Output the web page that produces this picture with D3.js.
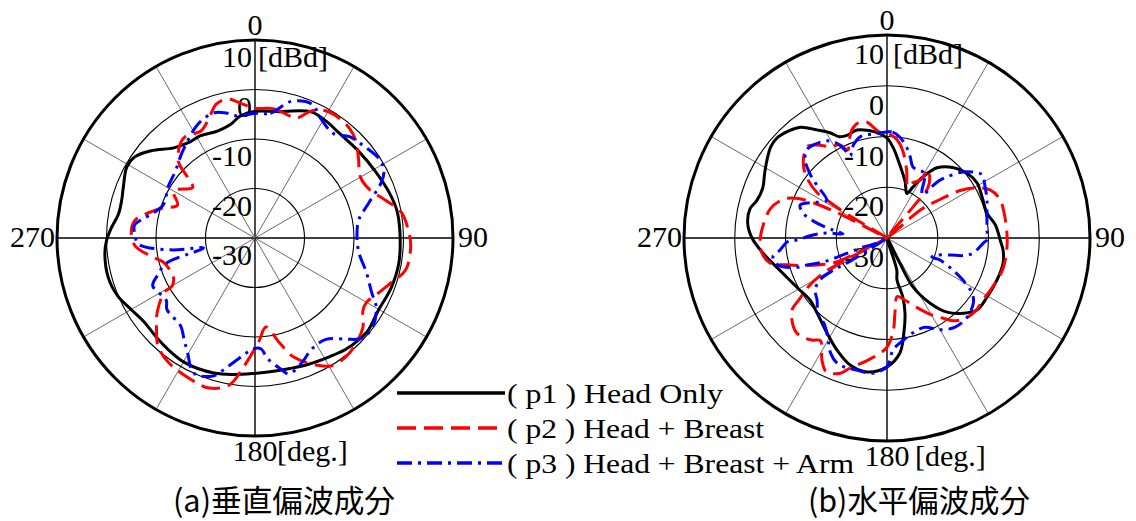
<!DOCTYPE html>
<html>
<head>
<meta charset="utf-8">
<script src="https://cdn.jsdelivr.net/npm/d3@7"></script>
<style>
  body { margin: 0; background: #fff; }
  svg { display: block; }
</style>
</head>
<body>
<svg id="chart" width="1136" height="521"></svg>
<script>
// Radial grid rings (dBd) and their labels
const ringValues = [10, 0, -10, -20, -30];
const ringLabels = ["10", "0", "-10", "-20", "-30"];
// Angular grid (degrees, clockwise from top)
const spokeAngles = [0, 30, 60, 90, 120, 150, 180, 210, 240, 270, 300, 330];
const angleLabels = ["0", "90", "180", "270"];
const seriesNames = ["( p1 ) Head Only", "( p2 ) Head + Breast", "( p3 ) Head + Breast + Arm"];
const panelTitles = ["(a)垂直偏波成分", "(b)水平偏波成分"];

// Vertical polarization patterns: [angle deg, level dBd]
const vertP1 = [[0,-4.4],[11,-4.0],[14,-3.6],[24,-2.1],[32,-2.4],[38,-2.8],[50,-2.7],[61,-2.2],[71,-1.4],[79,-0.8],[88,-0.7],[100,-0.5],[110,-0.7],[121,-1.1],[129,-0.5],[134,-0.6],[141,-1.0],[148,-1.7],[157,-2.3],[165,-2.7],[172,-2.8],[181,-2.6],[190,-2.0],[197,-1.5],[204,-1.2],[210,-1.1],[217,-1.4],[224,-1.7],[233,-1.9],[240,-1.1],[247,0.1],[255,0.7],[264,0.5],[269,0.0],[274,-0.9],[280,-2.0],[286,-2.0],[291,-1.5],[299,-0.4],[304,-0.7],[310,-2.6],[318,-5.5],[325,-6.5],[332,-6.6],[341,-7.1],[348,-6.5],[353,-5.2]];
const vertP2 = [[0,-3.8],[8,-3.6],[14,-4.2],[19,-4.4],[24,-1.9],[29,-0.6],[35,-0.4],[41,-0.8],[46,-1.7],[52,-3.5],[60,-5.4],[67,-4.9],[74,-2.5],[80,0.0],[87,1.0],[93,1.5],[102,1.1],[108,-1.0],[114,-2.7],[120,-4.0],[124,-3.7],[130,-1.6],[141,0.1],[149,0.1],[154,-1.4],[162,-4.7],[167,-8.4],[173,-11.9],[178,-9.0],[185,-3.9],[190,0.2],[197,1.7],[204,1.4],[215,0.6],[222,-0.7],[227,-2.8],[233,-5.3],[239,-8.6],[240,-10.7],[245,-11.8],[250,-11.6],[255,-10.9],[260,-8.7],[266,-5.8],[272,-5.0],[278,-5.4],[282,-7.2],[288,-10.4],[293,-13.0],[300,-11.0],[309,-13.8],[312,-11.7],[315,-8.1],[322,-5.6],[326,-5.1],[333,-5.8],[338,-4.5],[344,-1.8],[349,-1.4],[355,-2.9]];
const vertP3 = [[0,-4.8],[7,-4.6],[15,-1.4],[23,-0.6],[29,-2.5],[37,-3.6],[43,-2.0],[50,-1.2],[57,-0.3],[62,-0.5],[66,-2.0],[73,-6.0],[80,-8.7],[89,-9.4],[98,-8.8],[107,-6.5],[115,-4.0],[120,-1.7],[128,-0.1],[134,-0.7],[138,-2.5],[145,-5.0],[153,-4.8],[159,-3.2],[166,-1.7],[169,-3.1],[174,-5.5],[177,-7.6],[181,-7.6],[186,-6.1],[192,-3.4],[196,-1.2],[198,-0.6],[203,0.1],[206,-0.6],[210,-2.9],[215,-5.0],[220,-6.7],[231,-7.1],[235,-8.1],[245,-7.2],[249,-8.9],[254,-11.3],[259,-19.4],[262,-12.8],[267,-6.4],[271,-5.8],[276,-5.5],[279,-6.7],[284,-8.9],[290,-10.3],[301,-9.6],[310,-9.0],[318,-7.6],[324,-6.4],[330,-5.0],[335,-4.0],[342,-3.4],[347,-4.1],[352,-5.1]];

// Horizontal polarization patterns: [angle deg, level dBd]
const horzP1 = [[0,-10.3],[4,-12.2],[10,-15.4],[18,-18.4],[24,-20.4],[27,-18.7],[30.5,-16.0],[35.5,-13.0],[43,-11.0],[51,-9.7],[58.6,-9.2],[66.7,-9.6],[76,-9.7],[83,-8.5],[91,-7.7],[96,-7.0],[102,-6.6],[111,-6.8],[120.5,-7.1],[128.7,-7.3],[134.6,-8.9],[141,-11.2],[146.5,-14.6],[152,-19.1],[153,-24.4],[158,-30],[163,-23.4],[166.6,-21.5],[165,-18.0],[166.5,-14.8],[169.5,-11.5],[173.6,-7.2],[180,-4.6],[188.5,-3.3],[196,-3.9],[204,-5.8],[212,-7.8],[223,-9.8],[231,-10.5],[241,-9.8],[253,-8.0],[263,-5.4],[270,-3.4],[276,-2.4],[282,-2.4],[286,-3.3],[292,-3.6],[298,-2.7],[303,-1.8],[308,-0.9],[312,-0.7],[317,-1.3],[322,-2.3],[327,-4.6],[331.5,-6.4],[335,-8.0],[339,-8.3],[344.5,-7.9],[351,-8.6],[355,-9.2]];
const horzP2 = [[0,-9.3],[6,-10.6],[10,-12.4],[16,-16.0],[22,-19.1],[25,-18.0],[30,-16.8],[31,-14.3],[34,-15.0],[39,-17.1],[40,-22.0],[43,-30],[50,-21.5],[54,-17.1],[57,-12.8],[61,-9.6],[65,-7.6],[71,-6.5],[80,-6.4],[92,-6.3],[101,-6.3],[106,-6.4],[111,-6.8],[117,-7.2],[123,-7.5],[129,-7.4],[135,-7.8],[141,-9.0],[145,-10.7],[150,-12.5],[157,-15.2],[165,-17.5],[170,-18.3],[174,-15.1],[176,-11.8],[180,-8.5],[185,-6.8],[189,-5.6],[196,-3.3],[199,-1.8],[203,-1.1],[205,-1.2],[208,-2.7],[213,-5.9],[216,-5.1],[220,-4.4],[224,-4.2],[229,-5.2],[233,-6.6],[235,-8.9],[238,-11.5],[241,-15.5],[242,-21],[242.5,-30],[244,-21],[245,-18.3],[251,-13.4],[255,-9.6],[258,-6.4],[263,-5.2],[269,-5.0],[275,-5.4],[284,-6.3],[290,-8.0],[293,-9.8],[295,-12.5],[297,-19],[299,-30],[301,-21],[302,-16.8],[303,-13.6],[307,-10.2],[312,-7.8],[319,-6.1],[324,-7.4],[328,-8.8],[333,-9.4],[336,-11],[339,-9.3],[342,-7.6],[346,-6.6],[350,-6.8],[356,-9.1]];
const horzP3 = [[0,-9.1],[3,-9.1],[7,-9.9],[12,-11.6],[16,-13.4],[20,-15.1],[24,-15.3],[29,-15.2],[32,-16],[37,-18.6],[40,-19.0],[41,-16.8],[42.5,-14.5],[44.5,-13.1],[48,-10.7],[50.5,-9.5],[54,-8.1],[56.5,-7.5],[62.5,-8.2],[69,-8.9],[76,-9.7],[84,-10.2],[91,-10.3],[93,-11.0],[100,-12.8],[103,-14.6],[105,-17.1],[109,-19.6],[113,-20.4],[112.5,-18.7],[116,-15.5],[119,-12.9],[123,-10.0],[127,-8.7],[134.6,-7.8],[142.6,-7.9],[150,-9.1],[157,-10.9],[165,-10.6],[171,-9.6],[177,-7.9],[178.6,-5.9],[180,-4.6],[186,-3.2],[193,-3.3],[198,-3.2],[202,-3.5],[206,-4.7],[210,-6.8],[215.5,-8.9],[222.6,-9.9],[228.5,-11.6],[234,-12.5],[238,-14.4],[239,-17.6],[238,-20.7],[237,-30],[243,-27.8],[249,-24.9],[249,-20.7],[249.4,-16.5],[251.4,-13.4],[252,-11.3],[256,-7.9],[260.5,-7.2],[263.6,-8.8],[267.7,-10.3],[268.7,-12.2],[272.3,-15.4],[274.8,-18.1],[275.2,-21.3],[278.4,-19.2],[282,-15.9],[286.6,-12.7],[290.8,-11.7],[293.6,-12.8],[297,-14.5],[302,-16.0],[307,-12.7],[310,-10.1],[313.6,-7.7],[317.7,-6.5],[321.5,-6.6],[328.3,-7.5],[332,-8.8],[334.5,-10.8],[336,-12.3],[338.7,-11],[345,-9.4],[352.3,-9.3]];

const seriesStyles = [
  { color: "#000000", dash: null },
  { color: "#ff0000", dash: "19,8" },
  { color: "#0000ff", dash: "15,6,3,6" }
];

const svg = d3.select("#chart");
const serif = "'Liberation Serif', 'Times New Roman', serif";
const tickSize = 30;
const toRad = d => d * Math.PI / 180;

const panels = [
  { cx: 255, cy: 238, R: 198, series: [vertP1, vertP2, vertP3], ringDy: 27, unitDx: 3, degDx: 22 },
  { cx: 887, cy: 238, R: 203, series: [horzP1, horzP2, horzP3], ringDy: 29, unitDx: 6, degDx: 28 }
];

panels.forEach(p => {
  const g = svg.append("g").attr("transform", `translate(${p.cx},${p.cy})`);
  const r = d3.scaleLinear().domain([-30, 10]).range([0, p.R]).clamp(true);

  // spokes
  g.selectAll("line.spoke").data(spokeAngles).join("line")
    .attr("class", "spoke")
    .attr("x1", 0).attr("y1", 0)
    .attr("x2", a => p.R * Math.sin(toRad(a)))
    .attr("y2", a => -p.R * Math.cos(toRad(a)))
    .attr("stroke", a => a % 90 === 0 ? "#000" : "#6a6a6a")
    .attr("stroke-width", a => a % 90 === 0 ? 1.4 : 1);

  // rings
  g.selectAll("circle.ring").data(ringValues.filter(v => v > -30)).join("circle")
    .attr("class", "ring")
    .attr("r", v => r(v))
    .attr("fill", "none")
    .attr("stroke", "#000")
    .attr("stroke-width", v => v === 10 ? 3 : 1.1);

  const label = (x, y, anchor, txt) => g.append("text")
    .attr("x", x).attr("y", y)
    .attr("text-anchor", anchor)
    .attr("font-family", serif).attr("font-size", tickSize)
    .text(txt);

  // ring labels
  ringValues.forEach((v, i) => {
    const y = -r(v) + p.ringDy;
    label(-3, y, "end", ringLabels[i]);
    if (v === 10) label(p.unitDx, y, "start", "[dBd]");
  });

  // angle labels
  label(0, -p.R - 5, "middle", angleLabels[0]);
  label(p.R + 5, 9, "start", angleLabels[1]);
  label(-p.R - 2, 9, "end", angleLabels[3]);
  label(0, p.R + 25, "middle", angleLabels[2]);
  label(p.degDx, p.R + 25, "start", "[deg.]");

  // pattern curves
  const line = d3.lineRadial()
    .angle(d => toRad(d[0]))
    .radius(d => r(d[1]))
    .curve(d3.curveCatmullRomClosed.alpha(0.5));

  p.series.forEach((data, si) => {
    g.append("path")
      .attr("d", line(data))
      .attr("fill", "none")
      .attr("stroke", seriesStyles[si].color)
      .attr("stroke-width", 3)
      .attr("stroke-linejoin", "round")
      .attr("stroke-dasharray", seriesStyles[si].dash);
  });
});

// legend
const legendWidths = [216, 257, 347];
seriesNames.forEach((name, i) => {
  const y = 393 + i * 35;
  svg.append("line")
    .attr("x1", 397).attr("x2", 505).attr("y1", y).attr("y2", y)
    .attr("stroke", seriesStyles[i].color)
    .attr("stroke-width", 3.5)
    .attr("stroke-dasharray", seriesStyles[i].dash);
  svg.append("text")
    .attr("x", 507).attr("y", y + 10)
    .attr("font-family", serif).attr("font-size", 28)
    .attr("textLength", legendWidths[i]).attr("lengthAdjust", "spacingAndGlyphs")
    .text(name);
});

// panel titles
const titleX = [173, 808];
panelTitles.forEach((t, i) => {
  svg.append("text")
    .attr("x", titleX[i]).attr("y", 512)
    .attr("font-family", "'Noto Sans CJK JP', 'Noto Sans CJK SC', sans-serif")
    .attr("font-size", 31)
    .attr("textLength", 222).attr("lengthAdjust", "spacingAndGlyphs")
    .text(t);
});
</script>
</body>
</html>
